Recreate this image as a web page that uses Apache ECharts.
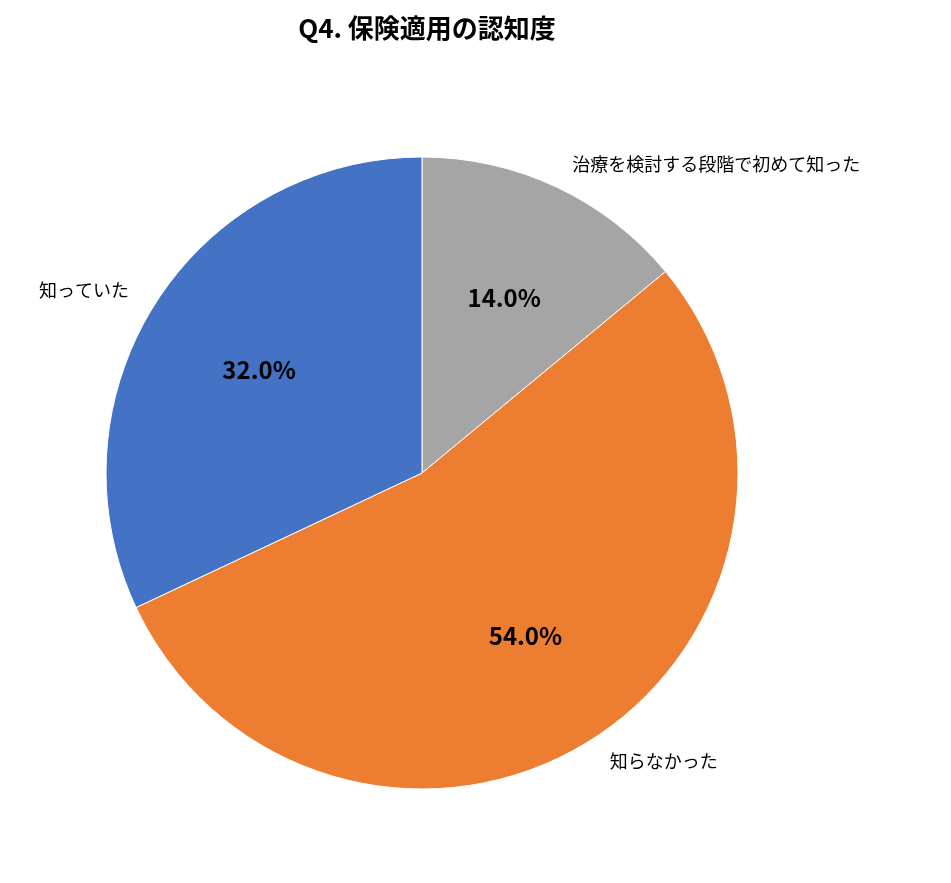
<!DOCTYPE html>
<html><head><meta charset="utf-8">
<script src="https://cdn.jsdelivr.net/npm/echarts@6/dist/echarts.min.js"></script>
<style>html,body{margin:0;padding:0;background:#fff}#c{width:951px;height:883px}</style>
</head><body><div id="c"></div>
<script>
const categories = ['治療を検討する段階で初めて知った', '知らなかった', '知っていた'];
const values = [14.0, 54.0, 32.0];
const colors = ['#A5A5A5', '#ED7D31', '#4472C4'];
const font = '"Noto Sans CJK JP", "Noto Sans", sans-serif';
const data = categories.map((n, i) => ({ name: n, value: values[i], itemStyle: { color: colors[i] } }));
const ghost = categories.map((n, i) => ({ name: n, value: values[i], itemStyle: { color: 'rgba(0,0,0,0)', borderWidth: 0 } }));
const chart = echarts.init(document.getElementById('c'));
chart.setOption({
  animation: false,
  title: { text: 'Q4. 保険適用の認知度', left: 422, textAlign: 'center', top: 10,
    textStyle: { fontFamily: font, fontSize: 26, fontWeight: 'bold', color: '#000' } },
  series: [
    { type: 'pie', center: [422, 473], radius: [0, 316], startAngle: 90, clockwise: true,
      data: data, itemStyle: { borderColor: '#fff', borderWidth: 1 },
      label: { show: false }, labelLine: { show: false } },
    { type: 'pie', center: [422, 473], radius: [64, 316], startAngle: 90, clockwise: true,
      data: ghost, silent: true,
      label: { show: true, position: 'inside', formatter: p => p.value.toFixed(1) + '%',
        fontFamily: font, fontSize: 24, fontWeight: 'bold', color: '#000' },
      labelLine: { show: false } },
    { type: 'pie', center: [422, 473], radius: [0, 316], startAngle: 90, clockwise: true,
      data: ghost, silent: true,
      label: { show: true, position: 'outside', formatter: '{b}', fontFamily: font, fontSize: 18, color: '#000' },
      labelLine: { show: false, length: 25, length2: 0 } }
  ]
});
</script></body></html>
